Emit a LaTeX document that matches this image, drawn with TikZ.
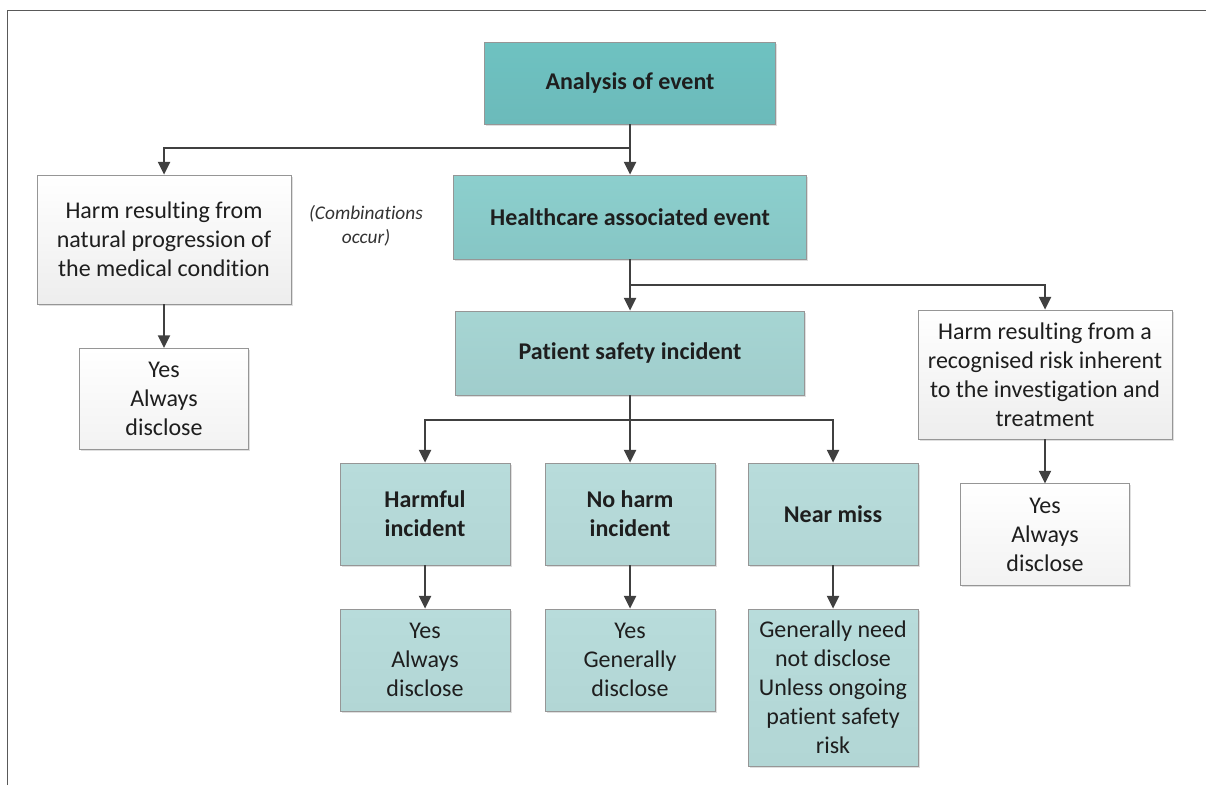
\documentclass[tikz,border=0pt]{standalone}
\usepackage{fontspec}
\setmainfont{Carlito}[Ligatures={NoCommon,NoContextual,NoRare}, Contextuals=NoAlternate]
\usepackage{tikz}
\usetikzlibrary{arrows.meta,shadows}
\definecolor{tealA}{RGB}{110,194,193}
\definecolor{tealAb}{RGB}{108,186,186}
\definecolor{tealB}{RGB}{140,207,205}
\definecolor{tealBb}{RGB}{134,198,197}
\definecolor{tealC}{RGB}{166,213,211}
\definecolor{tealCb}{RGB}{160,205,204}
\definecolor{tealD}{RGB}{184,220,219}
\definecolor{tealDb}{RGB}{178,214,213}
\definecolor{boxline}{RGB}{150,150,150}
\definecolor{arrowgray}{RGB}{64,64,64}
\definecolor{inktext}{RGB}{30,30,30}
\tikzset{every picture/.style={line width=0.75pt}}
\tikzset{
  flowbox/.style={draw=boxline, line width=0.6pt, align=center, inner sep=2pt, text=inktext,
    font=\fontsize{18}{21.75}\selectfont,
    drop shadow={shadow xshift=1.2pt, shadow yshift=-1.2pt, opacity=0.25}},
  topbox/.style={flowbox, top color=tealA, bottom color=tealAb, font=\fontsize{18}{21.75}\selectfont\bfseries},
  midbox/.style={flowbox, top color=tealB, bottom color=tealBb, font=\fontsize{18}{21.75}\selectfont\bfseries},
  psibox/.style={flowbox, top color=tealC, bottom color=tealCb, font=\fontsize{18}{21.75}\selectfont\bfseries},
  kindbox/.style={flowbox, top color=tealD, bottom color=tealDb, minimum width=127.5pt, minimum height=76.5pt, font=\fontsize{18}{21.75}\selectfont\bfseries},
  answerbox/.style={flowbox, top color=tealD, bottom color=tealDb, minimum width=127.5pt, minimum height=76.5pt},
  harmbox/.style={flowbox, top color=white, bottom color=black!7, minimum width=190.5pt, minimum height=96.75pt},
  greybox/.style={flowbox, top color=white, bottom color=black!5, minimum width=126.75pt, minimum height=76pt},
  conn/.style={draw=arrowgray, line width=1.5pt, -{Triangle[length=9.5pt,width=9pt]}}
}

\begin{document}
\begin{tikzpicture}[x=0.75pt,y=0.75pt,yscale=-1,xscale=1]
\useasboundingbox (0,0) rectangle (1206,785);
% frame
\draw [draw=black!65, line width=1.1pt] (7.5,785) -- (7.5,10.5) -- (1206,10.5) ;

% main column
\draw (630,83) node (analysis) [topbox, minimum width=218.25pt, minimum height=61.5pt] {Analysis of event};
\draw (630,217) node (healthcare) [midbox, minimum width=264.75pt, minimum height=63pt] {Healthcare associated event};
\draw (630,353) node (patient) [psibox, minimum width=261.75pt, minimum height=63pt] {Patient safety incident};

% incident kinds
\draw (425,514) node (harmful) [kindbox] {Harmful\\incident};
\draw (630,514) node (noharm) [kindbox] {No harm\\incident};
\draw (833,514) node (nearmiss) [kindbox] {Near miss};
\draw (425,660) node (harmfulans) [answerbox] {Yes\\Always\\disclose};
\draw (630,660) node (noharmans) [answerbox] {Yes\\Generally\\disclose};
\draw (833,687.5) node (nearmissans) [answerbox, minimum height=117.75pt] {Generally need\\not disclose\\Unless ongoing\\patient safety\\risk};

% side branches
\draw (164,239.5) node (natural) [harmbox] {Harm resulting from\\natural progression of\\the medical condition};
\draw (164,399) node (naturalans) [greybox] {Yes\\Always\\disclose};
\draw (1045,374.5) node (inherent) [harmbox] {Harm resulting from a\\recognised risk inherent\\to the investigation and\\treatment};
\draw (1045,534.5) node (inherentans) [greybox] {Yes\\Always\\disclose};
\draw (366,226) node (combo) [align=center, inner sep=0pt, font=\fontsize{14.5}{18}\selectfont\itshape, text=black!80] {(Combinations\\occur)};

% connectors
\coordinate (splitA) at (630,148);
\coordinate (splitB) at (630,285);
\coordinate (splitC) at (630,420);
\draw [conn] (analysis.south) -- (healthcare.north) ;
\draw [conn] (splitA) -| (natural.north) ;
\draw [conn] (natural.south) -- (naturalans.north) ;
\draw [conn] (healthcare.south) -- (patient.north) ;
\draw [conn] (splitB) -| (inherent.north) ;
\draw [conn] (inherent.south) -- (inherentans.north) ;
\draw [conn] (patient.south) -- (noharm.north) ;
\draw [conn] (splitC) -| (harmful.north) ;
\draw [conn] (splitC) -| (nearmiss.north) ;
\draw [conn] (harmful.south) -- (harmfulans.north) ;
\draw [conn] (noharm.south) -- (noharmans.north) ;
\draw [conn] (nearmiss.south) -- (nearmissans.north) ;
\end{tikzpicture}
\end{document}
